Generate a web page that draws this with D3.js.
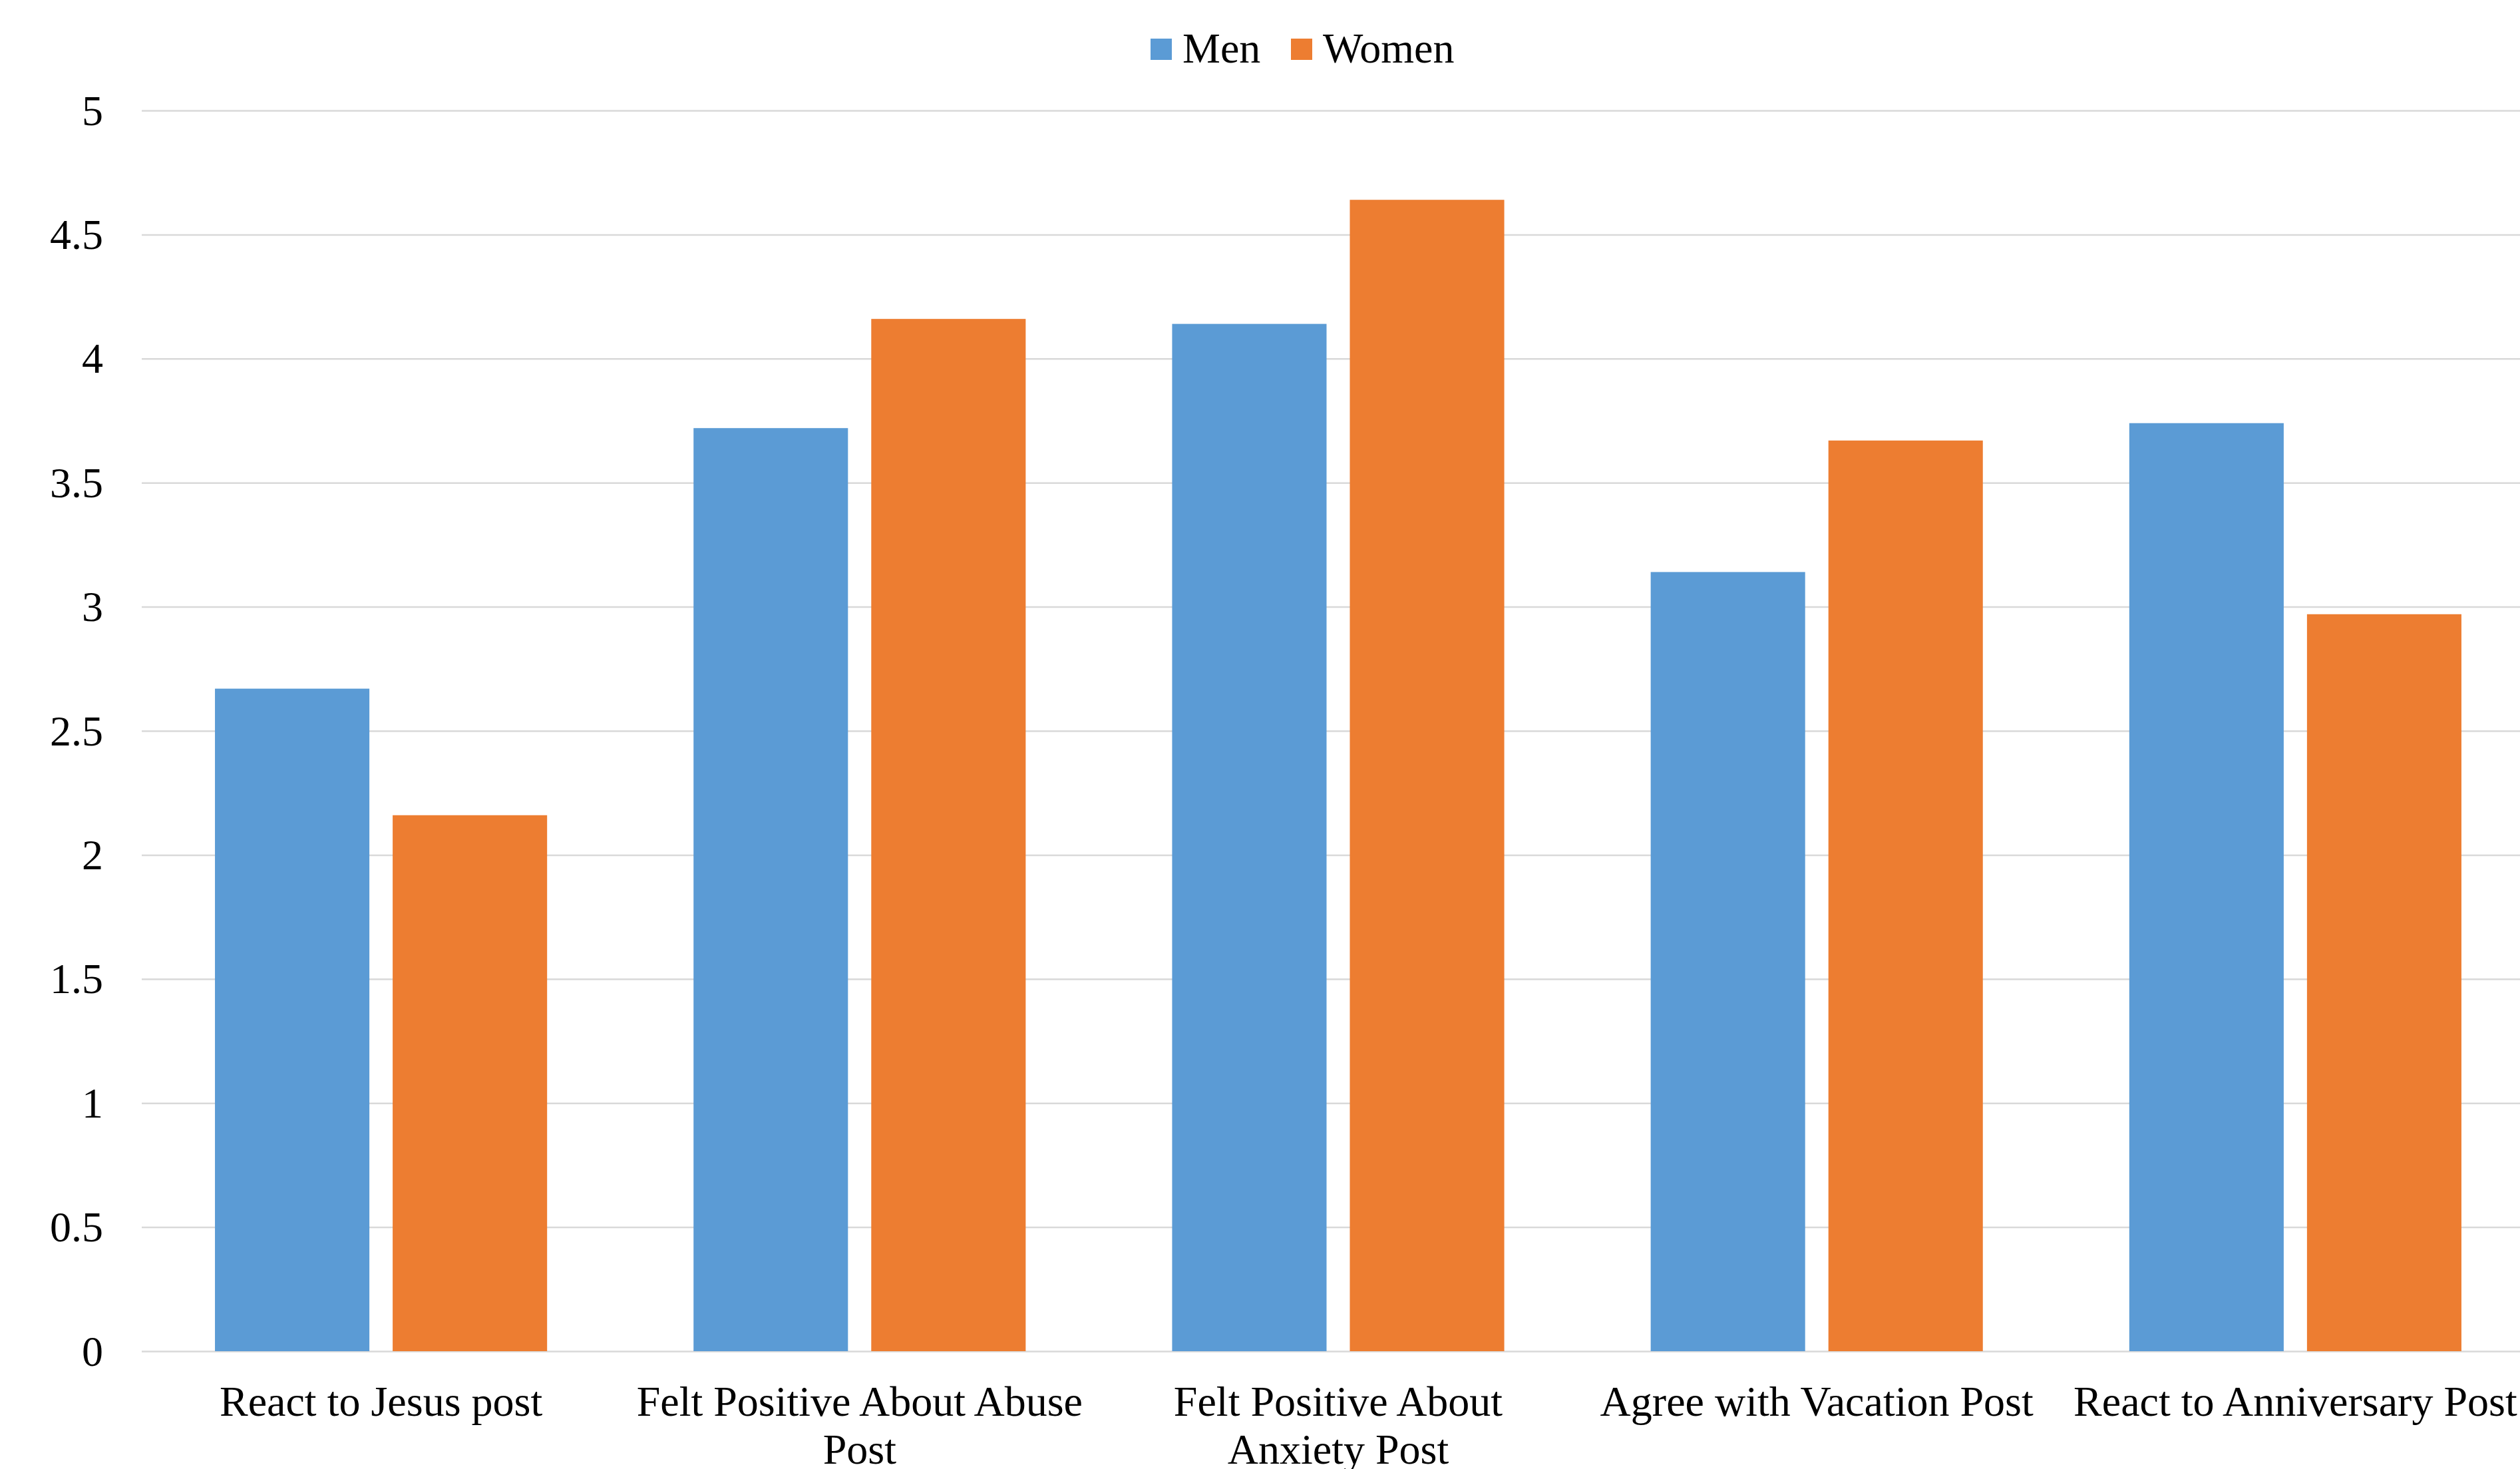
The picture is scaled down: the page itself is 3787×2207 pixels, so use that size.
<!DOCTYPE html>
<html>
<head>
<meta charset="utf-8">
<script src="https://cdn.jsdelivr.net/npm/d3@7"></script>
<style>
  html, body { margin: 0; padding: 0; background: #ffffff; }
  svg { display: block; }
  text { font-family: "Liberation Serif", "Times New Roman", serif; fill: #000; }
</style>
</head>
<body>
<svg id="chart"></svg>
<script>
// Mean ratings by post type, split by gender
const categories = [
  "React to Jesus post",
  "Felt Positive About Abuse Post",
  "Felt Positive About Anxiety Post",
  "Agree with Vacation Post",
  "React to Anniversary Post"
];
const seriesNames = ["Men", "Women"];
const menValues = [2.67, 3.72, 4.14, 3.14, 3.74];
const womenValues = [2.16, 4.16, 4.64, 3.67, 2.97];
const yTicks = [0, 0.5, 1, 1.5, 2, 2.5, 3, 3.5, 4, 4.5, 5];
const colors = ["#5B9BD5", "#ED7D31"];

const W = 3787, H = 2207;
const plot = { left: 213, right: 3809, top: 166, bottom: 2030 };
const fontSize = 64;

const svg = d3.select("#chart").attr("width", W).attr("height", H);

const y = d3.scaleLinear().domain([0, 5]).range([plot.bottom, plot.top]);
const x0 = d3.scaleBand().domain(categories).range([plot.left, plot.right]).padding(0);
const groupPad = x0.bandwidth() * 0.153;
const x1 = d3.scaleBand().domain(seriesNames)
  .range([groupPad, x0.bandwidth() - groupPad]).paddingInner(0.131).paddingOuter(0);

// Horizontal gridlines
const grid = svg.append("g")
  .attr("transform", `translate(${plot.left},0)`)
  .call(d3.axisLeft(y).tickValues(yTicks).tickSize(-(plot.right - plot.left)).tickFormat(""));
grid.select(".domain").remove();
grid.selectAll(".tick line").attr("stroke", "#D9D9D9").attr("stroke-width", 2.5);

// Y tick labels
const yAxis = svg.append("g")
  .attr("transform", `translate(${plot.left},0)`)
  .call(d3.axisLeft(y).tickValues(yTicks).tickSize(0).tickPadding(58).tickFormat(d3.format("")));
yAxis.select(".domain").remove();
yAxis.selectAll(".tick text")
  .attr("font-size", fontSize)
  .attr("dy", "0.33em")
  .style("font-family", "'Liberation Serif', 'Times New Roman', serif");

// Bars
const rows = categories.map((c, i) => ({ cat: c, vals: [menValues[i], womenValues[i]] }));
const groups = svg.append("g").selectAll("g")
  .data(rows).join("g")
  .attr("transform", d => `translate(${x0(d.cat)},0)`);
groups.selectAll("rect")
  .data(d => d.vals.map((v, j) => ({ key: seriesNames[j], v, j })))
  .join("rect")
  .attr("x", d => x1(d.key))
  .attr("width", x1.bandwidth())
  .attr("y", d => y(d.v))
  .attr("height", d => y(0) - y(d.v))
  .attr("fill", d => colors[d.j]);

// Category labels, wrapped to the band width
const maxLine = 695;
const measure = svg.append("text").attr("font-size", fontSize).attr("visibility", "hidden");
function wrap(str) {
  const words = str.split(" ");
  const lines = [];
  let cur = "";
  words.forEach(w => {
    const test = cur ? cur + " " + w : w;
    measure.text(test);
    if (measure.node().getComputedTextLength() > maxLine && cur) {
      lines.push(cur);
      cur = w;
    } else {
      cur = test;
    }
  });
  lines.push(cur);
  return lines;
}
const xLabels = svg.append("g");
categories.forEach(c => {
  const cx = x0(c) + x0.bandwidth() / 2;
  const t = xLabels.append("text")
    .attr("x", cx)
    .attr("y", 2127)
    .attr("text-anchor", "middle")
    .attr("font-size", fontSize);
  wrap(c).forEach((line, k) => {
    t.append("tspan")
      .attr("x", cx)
      .attr("dy", k === 0 ? 0 : 72)
      .text(line);
  });
});
measure.remove();

// Legend
const legend = svg.append("g");
const legendItems = [
  { name: seriesNames[0], color: colors[0], sx: 1729 },
  { name: seriesNames[1], color: colors[1], sx: 1940 }
];
legendItems.forEach(d => {
  legend.append("rect").attr("x", d.sx).attr("y", 58).attr("width", 32).attr("height", 32).attr("fill", d.color);
  legend.append("text").attr("x", d.sx + 48).attr("y", 94).attr("font-size", fontSize).text(d.name);
});
</script>
</body>
</html>
